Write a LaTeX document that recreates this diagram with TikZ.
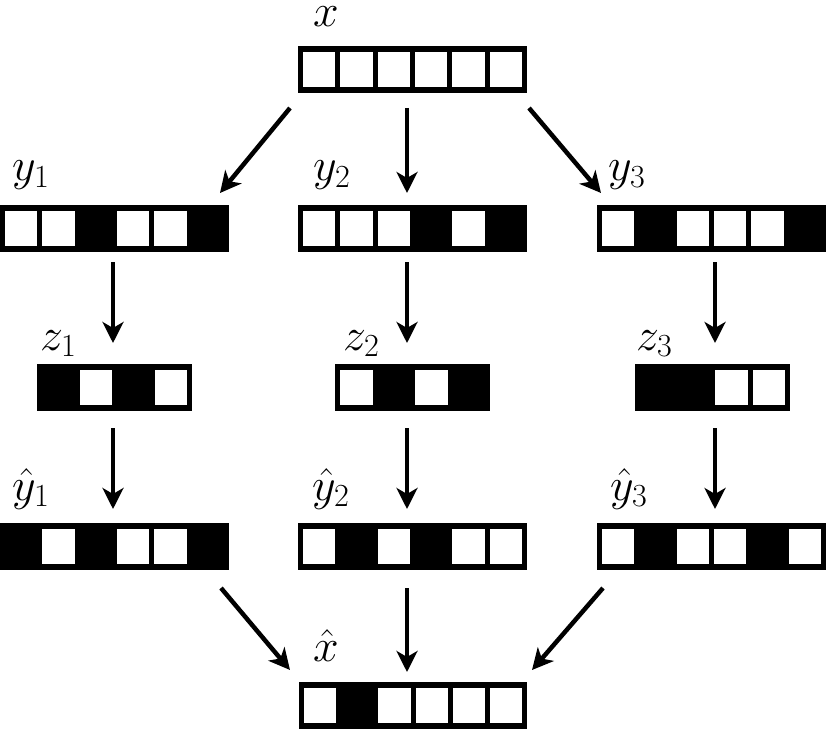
\RequirePackage{fix-cm}
\documentclass[tikz,border=0pt]{standalone}
\usetikzlibrary{arrows.meta,calc}
\tikzset{
  x=1pt, y=-1pt,
  regbox/.style={fill=black, draw=none, inner sep=0pt, outer sep=0pt, anchor=north west, minimum height=47pt},
  arr/.style={line width=4.5pt, -{Stealth[length=21pt,width=21pt,inset=6pt]}},
  lab/.style={inner sep=0pt, anchor=base west, font=\fontsize{46}{50}\selectfont},
}
% name, left, top, width, cells, pattern (1 = black)
\newcommand\mkreg[6]{%
  \node[regbox, minimum width=#4pt] (#1) at (#2,#3) {};
  \pgfmathsetmacro\regpitch{(#4-10+5)/#5}
  \pgfmathsetmacro\regcell{\regpitch-5}
  \foreach \v [count=\i from 0] in {#6} {
    \ifnum\v=0
      \fill[white] ($(#1.north west)+(5+\i*\regpitch, 6)$) rectangle ++(\regcell, 35);
    \fi
  }%
}
\begin{document}
\begin{tikzpicture}
\useasboundingbox (0,0) rectangle (827,730);

% registers
\mkreg{x}{298}{46}{229}{6}{0,0,0,0,0,0}
\mkreg{y1}{0}{205}{229}{6}{0,0,1,0,0,1}
\mkreg{y2}{298}{205}{229}{6}{0,0,0,1,0,1}
\mkreg{y3}{597}{205}{229}{6}{0,1,0,0,0,1}
\mkreg{z1}{37}{364}{155}{4}{1,0,1,0}
\mkreg{z2}{335}{364}{155}{4}{0,1,0,1}
\mkreg{z3}{635}{364}{155}{4}{1,1,0,0}
\mkreg{h1}{0}{523}{229}{6}{1,0,1,0,0,1}
\mkreg{h2}{298}{523}{229}{6}{0,1,0,1,0,0}
\mkreg{h3}{597}{523}{229}{6}{0,1,0,0,1,0}
\mkreg{xh}{299}{682}{228}{6}{0,1,0,0,0,0}

% labels
\node[lab] (lx)  at (313,27)  {$x$};
\node[lab] (ly1) at (12,181)  {$y_1$};
\node[lab] (ly2) at (313,181) {$y_2$};
\node[lab] (ly3) at (608,181) {$y_3$};
\node[lab] (lz1) at (40,350)  {$z_1$};
\node[lab] (lz2) at (343,350) {$z_2$};
\node[lab] (lz3) at (636,350) {$z_3$};
\node[lab] (lh1) at (12,500)  {$\hat{y}_1$};
\node[lab] (lh2) at (312,500) {$\hat{y}_2$};
\node[lab] (lh3) at (610,500) {$\hat{y}_3$};
\node[lab] (lxh) at (313,661) {$\hat{x}$};

% arrows x -> y
\draw[arr] ([shift={(-8,15)}]x.south west) -- ([shift={(-9,-12)}]y1.north east);
\draw[arr] ([shift={(-5.5,15)}]x.south) -- ([shift={(-5.5,-12)}]y2.north);
\draw[arr] ([shift={(2,15)}]x.south east) -- ([shift={(4,-12)}]y3.north west);
% y -> z
\draw[arr] ([shift={(-1.5,10)}]y1.south) -- ([shift={(-1.5,-21)}]z1.north);
\draw[arr] ([shift={(-5.5,10)}]y2.south) -- ([shift={(-5.5,-21)}]z2.north);
\draw[arr] ([shift={(3.5,10)}]y3.south) -- ([shift={(2.5,-21)}]z3.north);
% z -> yhat
\draw[arr] ([shift={(-1.5,17)}]z1.south) -- ([shift={(-1.5,-14)}]h1.north);
\draw[arr] ([shift={(-5.5,17)}]z2.south) -- ([shift={(-5.5,-14)}]h2.north);
\draw[arr] ([shift={(2.5,17)}]z3.south) -- ([shift={(3.5,-14)}]h3.north);
% yhat -> xhat
\draw[arr] ([shift={(-8,18)}]h1.south east) -- ([shift={(-9,-12)}]xh.north west);
\draw[arr] ([shift={(-5.5,18)}]h2.south) -- ([shift={(-6,-10)}]xh.north);
\draw[arr] ([shift={(6,18)}]h3.south west) -- ([shift={(5,-12)}]xh.north east);
\end{tikzpicture}
\end{document}
